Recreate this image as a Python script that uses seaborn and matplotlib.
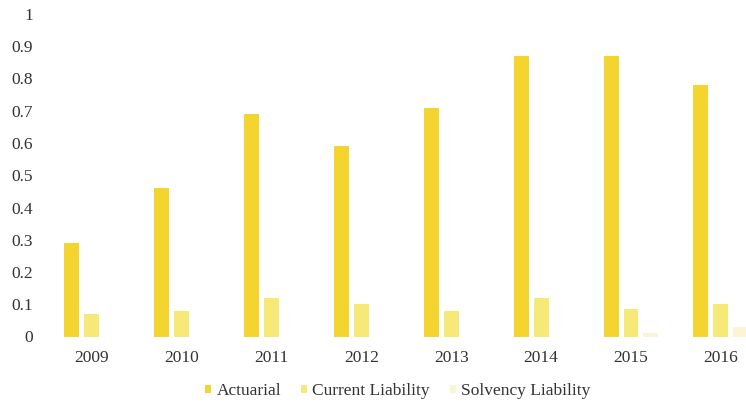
import matplotlib
matplotlib.use("Agg")
import matplotlib.pyplot as plt
import seaborn as sns
import pandas as pd

years = ["2009", "2010", "2011", "2012", "2013", "2014", "2015", "2016"]
actuarial = [0.29, 0.46, 0.69, 0.59, 0.71, 0.87, 0.87, 0.78]
current_liability = [0.07, 0.08, 0.12, 0.10, 0.08, 0.12, 0.085, 0.10]
solvency_liability = [0.0, 0.0, 0.0, 0.0, 0.0, 0.0, 0.01, 0.03]
series_names = ["Actuarial", "Current Liability", "Solvency Liability"]
series_colors = ["#F4D42E", "#F6E977", "#FBF5D6"]

df = pd.DataFrame({
    "year": years * 3,
    "value": actuarial + current_liability + solvency_liability,
    "series": [s for s in series_names for _ in years],
})

sns.set_theme(style="white")
plt.rcParams["font.family"] = ["Liberation Serif", "DejaVu Serif"]

W, H = 746, 405
fig = plt.figure(figsize=(W / 100, H / 100), dpi=100)
left, right, bottom, top = 47, 746, 336.5, 14
ax = fig.add_axes([left / W, (H - bottom) / H, (right - left) / W, (bottom - top) / H])

sns.barplot(data=df, x="year", y="value", hue="series", hue_order=series_names,
            palette=series_colors, width=0.667, gap=0.25, saturation=1,
            linewidth=0, ax=ax)

ax.set_ylim(0, 1)
ax.set_xlim(-0.5, 7.28)
ax.set_yticks([i / 10 for i in range(11)])
ax.set_yticklabels(["0", "0.1", "0.2", "0.3", "0.4", "0.5", "0.6", "0.7", "0.8", "0.9", "1"])
ax.set_xlabel("")
ax.set_ylabel("")
for s in ax.spines.values():
    s.set_visible(False)
ax.tick_params(axis="x", length=0, pad=10, labelsize=12.5, labelcolor="#333333")
ax.tick_params(axis="y", length=0, pad=10, labelsize=12.5, labelcolor="#333333")

handles, labels = ax.get_legend_handles_labels()
ax.legend(handles, labels, loc="center",
          bbox_to_anchor=((398 - left) / (right - left), -(391 - bottom) / (bottom - top)),
          ncol=3, frameon=False, fontsize=12.5, handlelength=0.35, handleheight=0.35,
          handletextpad=0.3, columnspacing=1.15, labelcolor="#333333")

fig.savefig("out.png", dpi=100)
